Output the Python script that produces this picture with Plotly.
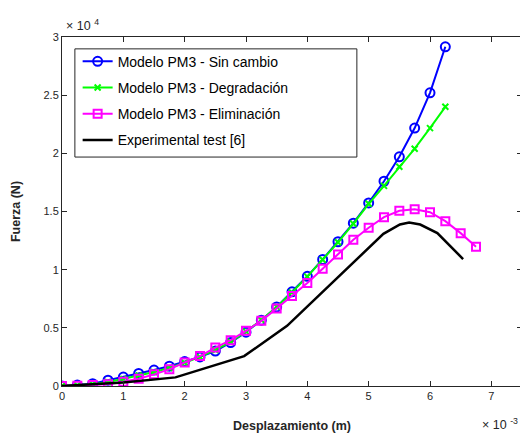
import plotly.graph_objects as go

# desplazamiento en 1e-3 m, fuerza en 1e4 N
desp_modelo = [0, 0.25, 0.5, 0.75, 1.0, 1.25, 1.5, 1.75, 2.0, 2.25, 2.5, 2.75, 3.0,
               3.25, 3.5, 3.75, 4.0, 4.25, 4.5, 4.75, 5.0, 5.25, 5.5, 5.75, 6.0, 6.25]
desp_elim = desp_modelo + [6.5, 6.75]

fuerza_sin_cambio = [0, 0.008, 0.02, 0.05, 0.077, 0.108, 0.137, 0.17, 0.21, 0.25, 0.30, 0.374, 0.463,
                     0.566, 0.68, 0.81, 0.943, 1.088, 1.24, 1.40, 1.574, 1.76, 1.97, 2.217, 2.52, 2.916]
fuerza_degradacion = [0, 0.005, 0.015, 0.035, 0.06, 0.09, 0.12, 0.155, 0.2, 0.25, 0.31, 0.38, 0.468,
                      0.567, 0.68, 0.805, 0.94, 1.085, 1.235, 1.395, 1.566, 1.72, 1.885, 2.04, 2.217, 2.40]
fuerza_eliminacion = [0, 0.003, 0.008, 0.015, 0.037, 0.063, 0.10, 0.143, 0.203, 0.257, 0.33, 0.394, 0.474,
                      0.56, 0.666, 0.774, 0.885, 1.008, 1.131, 1.257, 1.36, 1.451, 1.506, 1.52, 1.494,
                      1.417, 1.314, 1.197]

desp_exp = [0, 1.0, 1.85, 2.97, 3.67, 4.45, 5.24, 5.51, 5.66, 5.84, 6.12, 6.54]
fuerza_exp = [0, 0.03, 0.074, 0.257, 0.517, 0.91, 1.308, 1.388, 1.405, 1.388, 1.314, 1.091]

x_ticks = [0, 1, 2, 3, 4, 5, 6, 7]
y_ticks = [0, 0.5, 1, 1.5, 2, 2.5, 3]
y_ticklabels = ['0', '0.5', '1', '1.5', '2', '2.5', '3']

fig = go.Figure()

fig.add_trace(go.Scatter(
    x=desp_modelo, y=fuerza_sin_cambio, mode='lines+markers',
    name='Modelo PM3 - Sin cambio', legendgroup='a',
    line=dict(color='#0000ff', width=2),
    marker=dict(symbol='circle-open', size=9, color='#0000ff', line=dict(width=2)),
))
fig.add_trace(go.Scatter(
    x=desp_modelo, y=fuerza_degradacion, mode='lines+markers',
    name='Modelo PM3 - Degradación', legendgroup='b',
    line=dict(color='#00ff00', width=2),
    marker=dict(symbol='x-thin-open', size=6, color='#00ff00', line=dict(width=2, color='#00ff00')),
))
fig.add_trace(go.Scatter(
    x=desp_elim, y=fuerza_eliminacion, mode='lines+markers',
    name='Modelo PM3 - Eliminación', legendgroup='c',
    line=dict(color='#ff00ff', width=2),
    marker=dict(symbol='square-open', size=8, color='#ff00ff', line=dict(width=2)),
))
fig.add_trace(go.Scatter(
    x=desp_exp, y=fuerza_exp, mode='lines',
    name='Experimental test [6]', legendgroup='d',
    line=dict(color='black', width=2.5),
))

axis_style = dict(
    showline=True, linecolor='#262626', linewidth=1, mirror='ticks',
    ticks='inside', ticklen=5, tickcolor='#262626', tickwidth=1,
    showgrid=False, zeroline=False, automargin=False,
    tickfont=dict(family='Liberation Sans', size=11, color='#262626'),
)

# la página deja 8px de margen en el body, así que la figura es 8px más pequeña
fig.update_layout(
    width=520, height=427,
    margin=dict(l=54, r=6, t=29, b=49),
    paper_bgcolor='white', plot_bgcolor='white',
    font=dict(family='Liberation Sans', color='#262626'),
    xaxis=dict(range=[0, 7.5], tickvals=x_ticks,
               title=dict(text='<b>Desplazamiento (m)</b>', font=dict(size=12.5), standoff=20),
               **axis_style),
    yaxis=dict(range=[0, 3], tickvals=y_ticks, ticktext=y_ticklabels,
               title=dict(text='<b>Fuerza (N)</b>', font=dict(size=12.5), standoff=20),
               **axis_style),
    legend=dict(
        x=0.034, y=0.975, xanchor='left', yanchor='top',
        bgcolor='rgba(0,0,0,0)', borderwidth=0,
        font=dict(family='Liberation Sans', size=14, color='black'),
        tracegroupgap=5, itemwidth=30,
    ),
    showlegend=True,
)

# caja de la leyenda estilo MATLAB
fig.add_shape(type='rect', xref='paper', yref='paper',
              x0=0.028, x1=0.641, y0=0.656, y1=0.966,
              line=dict(color='#262626', width=1), fillcolor='white', layer='below')

fig.add_annotation(x=0, y=1, xref='paper', yref='paper', xanchor='left', yanchor='bottom',
                   xshift=2, yshift=2, showarrow=False,
                   text='×&nbsp;10&nbsp;<sup>4</sup>', font=dict(size=12.5, color='#262626'))
fig.add_annotation(x=1, y=-0.08, xref='paper', yref='paper', xanchor='right', yanchor='top',
                   xshift=-2, showarrow=False,
                   text='×&nbsp;10&nbsp;<sup>-3</sup>', font=dict(size=12.5, color='#262626'))

fig.write_html("out.html")
